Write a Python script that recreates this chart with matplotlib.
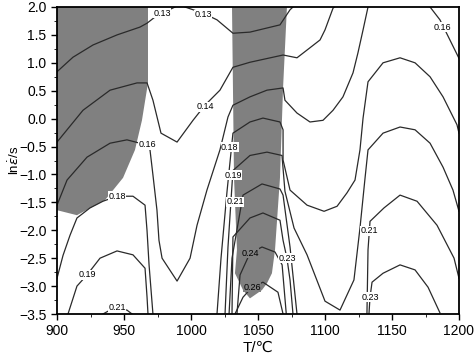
import numpy as np
import matplotlib.pyplot as plt

plt.rcParams['font.family'] = ['Liberation Sans', 'DejaVu Sans']

# instability domains
unst1_T = [900, 967.9, 967.9, 963.4, 958.2, 949.3, 935.8, 914.9, 900]
unst1_lnr = [2.0, 2.0, 0.64, -0.03, -0.56, -1.06, -1.46, -1.73, -1.64]
unst2_T = [1030.6, 1071.6, 1068.7, 1066.4, 1062.7, 1060.4, 1056.7, 1053, 1044, 1038.8, 1032.8, 1034.3, 1032.1]
unst2_lnr = [2.0, 2.0, 0.55, -1.06, -2.35, -2.77, -2.95, -3.07, -3.22, -3.07, -2.77, -2.35, -1.06]

# iso-efficiency lines, T (C) and ln(strain rate)
e013a_T = [900, 911.9, 926.9, 944.8, 961.9, 967.2, 973.1, 978.4, 988.1]
e013a_lnr = [0.84, 1.10, 1.32, 1.50, 1.64, 1.71, 1.82, 1.89, 2.0]
e013b_T = [995.5, 1009, 1019.4, 1031.3, 1044, 1066.4, 1073.9, 1076.1]
e013b_lnr = [2.0, 1.89, 1.77, 1.53, 1.55, 1.68, 1.95, 2.0]
e014_T = [900, 919.4, 939.6, 959.7, 967.2, 971.6, 977.6, 989.6, 1001.5, 1010.4, 1021.6,
          1031.3, 1044, 1068.7, 1079.1, 1088.8, 1096.3, 1100, 1106, 1107]
e014_lnr = [-0.42, 0.15, 0.51, 0.64, 0.64, 0.33, -0.26, -0.42, -0.03, 0.24, 0.51,
            0.92, 1.01, 1.14, 1.09, 1.27, 1.41, 1.59, 1.98, 2.0]
e016a_T = [900, 907.5, 922.4, 939.6, 952.2, 961.9, 969.4, 971.6, 974.6, 976.1, 978.4, 989.6,
           999.3, 1004.5, 1011.9, 1021.6, 1027.6, 1031.3, 1044, 1056.7, 1068.7, 1070.1,
           1079.1, 1088.8, 1098.5, 1106, 1113.4, 1120.9, 1124.6, 1128.4, 1132.1]
e016a_lnr = [-1.55, -1.1, -0.69, -0.44, -0.38, -0.44, -0.56, -1.01, -1.64, -2.18, -2.5, -2.91,
             -2.5, -1.91, -1.28, -0.56, 0.03, 0.24, 0.39, 0.51, 0.55, 0.33,
             0.1, -0.06, -0.03, 0.15, 0.39, 0.82, 1.18, 1.59, 2.0]
e016b_T = [1178.4, 1185.8, 1200]
e016b_lnr = [2.0, 1.77, 1.08]
e018a_T = [900, 904.5, 909.7, 914.9, 924.6, 934.3, 944.8, 956.7, 965.7, 967.2, 968.7, 971.6]
e018a_lnr = [-2.86, -2.45, -2.09, -1.78, -1.6, -1.48, -1.39, -1.39, -1.55, -2.01, -2.62, -3.5]
e018b_T = [1019.4, 1022.4, 1026.9, 1031.3, 1044, 1053.7, 1066.4, 1068.7, 1068.7, 1073.9,
           1086.6, 1099.3, 1109, 1116.4, 1122.4, 1126.1, 1128.4, 1132.1, 1143.3, 1156,
           1167.2, 1178.4, 1188.1, 1198.5, 1200]
e018b_lnr = [-3.5, -2.5, -1.3, -0.26, -0.06, 0.01, -0.06, -0.2, -0.74, -1.28,
             -1.55, -1.66, -1.57, -1.33, -1.1, -0.56, 0.01, 0.66, 1.0, 1.09,
             1.0, 0.75, 0.39, -0.11, -0.26]
e019a_T = [908.2, 914.9, 922.4, 932.1, 944.8, 956.7, 965.7, 967.2, 967.9]
e019a_lnr = [-3.5, -3.0, -2.8, -2.5, -2.37, -2.44, -2.68, -3.2, -3.5]
e019b_T = [1025.4, 1027.6, 1031.3, 1044, 1056.7, 1067.9, 1070.1, 1076.9, 1086.6, 1100,
           1111.2, 1121.6, 1126.1, 1129.9, 1132.1, 1143.3, 1156, 1167.2, 1178.4, 1188.1,
           1195.5, 1200]
e019b_lnr = [-3.5, -2.3, -0.93, -0.66, -0.6, -0.66, -1.3, -1.96, -2.44, -3.27,
             -3.43, -2.89, -1.96, -1.06, -0.56, -0.26, -0.15, -0.2, -0.44, -0.87,
             -1.28, -1.66]
e021a_T = [934.3, 939.6, 944.8, 952.2, 956]
e021a_lnr = [-3.5, -3.43, -3.41, -3.43, -3.5]
e021b_T = [1028.4, 1030.6, 1038.8, 1053, 1066.4, 1068.7, 1073.9, 1079.1]
e021b_lnr = [-3.5, -2.5, -1.37, -1.17, -1.26, -1.37, -2.3, -3.5]
e021c_T = [1131.3, 1132.1, 1133.6, 1144, 1156, 1168.7, 1183.6, 1196.3, 1200]
e021c_lnr = [-3.5, -2.35, -1.84, -1.6, -1.37, -1.48, -1.91, -2.5, -2.86]
e023a_T = [1030.6, 1031.3, 1044, 1053.7, 1066.4, 1068.7, 1071.6, 1073.9, 1076.1]
e023a_lnr = [-3.5, -2.12, -1.78, -1.69, -1.82, -2.18, -2.5, -2.89, -3.5]
e023b_T = [1132.8, 1133.6, 1135.1, 1143.3, 1156, 1167.2, 1176.9, 1185.8]
e023b_lnr = [-3.5, -3.2, -2.93, -2.77, -2.62, -2.71, -3.02, -3.48]
e024_T = [1034.3, 1036.6, 1044, 1053, 1062.7, 1068, 1071.1]
e024_lnr = [-3.5, -2.8, -2.41, -2.3, -2.39, -2.62, -3.5]
e026_T = [1032.8, 1038.8, 1045.5, 1053.7, 1064.9, 1068.7]
e026_lnr = [-3.5, -3.2, -3.02, -2.93, -3.11, -3.5]

iso_lines = [(e013a_T, e013a_lnr), (e013b_T, e013b_lnr), (e014_T, e014_lnr),
             (e016a_T, e016a_lnr), (e016b_T, e016b_lnr), (e018a_T, e018a_lnr),
             (e018b_T, e018b_lnr), (e019a_T, e019a_lnr), (e019b_T, e019b_lnr),
             (e021a_T, e021a_lnr), (e021b_T, e021b_lnr), (e021c_T, e021c_lnr),
             (e023a_T, e023a_lnr), (e023b_T, e023b_lnr), (e024_T, e024_lnr),
             (e026_T, e026_lnr)]

lab_text = ['0.13', '0.13', '0.14', '0.16', '0.16', '0.18', '0.18', '0.19', '0.19',
            '0.21', '0.21', '0.21', '0.23', '0.23', '0.24', '0.26']
lab_T = [978.4, 1009, 1010.4, 967.2, 1188, 944.8, 1029, 922.4, 1031.3,
         944.8, 1032.8, 1132.8, 1133.6, 1071.6, 1044, 1045.5]
lab_lnr = [1.89, 1.86, 0.21, -0.47, 1.64, -1.39, -0.51, -2.8, -1.01,
           -3.39, -1.49, -2.01, -3.2, -2.5, -2.41, -3.02]
# labels sitting inside the shaded band
lab_on_grey = [False] * 14 + [True, True]

fig = plt.figure(figsize=(4.74, 3.58), dpi=100)
ax = fig.add_axes([57 / 474, 1 - 314 / 358, 402 / 474, 307 / 358])

ax.fill(unst1_T, unst1_lnr, color='#808080', lw=0)
ax.fill(unst2_T, unst2_lnr, color='#808080', lw=0)
for t, r in iso_lines:
    ax.plot(t, r, color='#2a2a2a', lw=0.9)
for s, t, r, g in zip(lab_text, lab_T, lab_lnr, lab_on_grey):
    bg = '#808080' if g else 'white'
    ax.text(t, r, s, fontsize=6.5, ha='center', va='center', zorder=3,
            bbox=dict(fc=bg, ec='none', pad=0.3))

ax.set_xlim(900, 1200)
ax.set_ylim(-3.5, 2.0)
ax.set_xticks(np.arange(900, 1201, 50))
ax.set_yticks(np.arange(-3.5, 2.01, 0.5))
ax.set_xticks(np.arange(925, 1200, 50), minor=True)
ax.set_yticks(np.arange(-3.25, 2.0, 0.5), minor=True)
ax.tick_params(labelsize=10, width=1, length=4)
ax.tick_params(which='minor', length=2.5)
for sp in ax.spines.values():
    sp.set_linewidth(1.3)
ax.set_xlabel('T/\u2103', fontsize=11, labelpad=2)
ax.set_ylabel('ln$\\dot{\\varepsilon}$/s', fontsize=9.5)
ax.yaxis.set_label_coords(-0.088, 0.5)

fig.savefig('out.png', dpi=100)
